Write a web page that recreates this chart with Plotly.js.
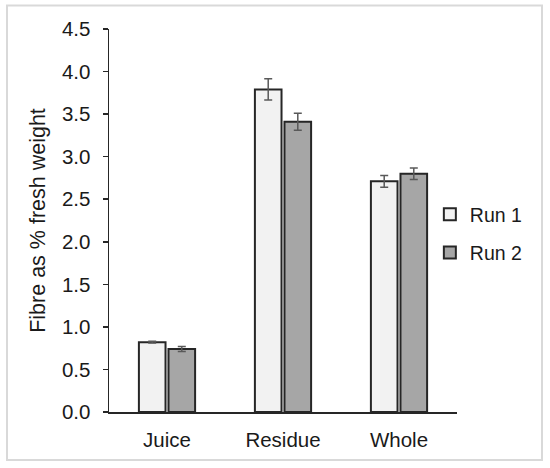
<!DOCTYPE html>
<html>
<head>
<meta charset="utf-8">
<script src="https://cdn.plot.ly/plotly-3.0.1.min.js"></script>
<style>
  body { margin: 0; background: #fff; }
  #graphDiv { width: 550px; height: 468px; }
</style>
</head>
<body>
<div id="graphDiv"></div>
<script>
// values
var categories = ["Juice", "Residue", "Whole"];
var run1Values = [0.82, 3.79, 2.71];
var run1Errors = [0.01, 0.125, 0.07];
var run2Values = [0.74, 3.41, 2.80];
var run2Errors = [0.03, 0.10, 0.068];
var yTicks = [0, 0.5, 1, 1.5, 2, 2.5, 3, 3.5, 4, 4.5];
var yTickLabels = ["0.0", "0.5", "1.0", "1.5", "2.0", "2.5", "3.0", "3.5", "4.0", "4.5"];

var textFont = "Liberation Sans, Arial, sans-serif";

function makeTrace(name, values, errors, fill) {
    return {
        type: 'bar',
        name: name,
        legendgroup: name,
        x: categories,
        y: values,
        marker: {
            color: fill,
            line: { color: '#262626', width: 2 }
        },
        error_y: {
            type: 'data',
            array: errors,
            visible: true,
            color: '#595959',
            thickness: 1.5,
            width: 4
        },
        hoverinfo: 'x+y+name'
    };
}

var data = [
    makeTrace("Run 1", run1Values, run1Errors, '#f2f2f2'),
    makeTrace("Run 2", run2Values, run2Errors, '#a6a6a6')
];

var layout = {
    width: 550,
    height: 468,
    margin: { l: 109, r: 93, t: 29, b: 56, pad: 0 },
    paper_bgcolor: '#ffffff',
    plot_bgcolor: '#ffffff',
    font: { family: textFont, color: '#1a1a1a', size: 19 },
    barmode: 'group',
    bargap: 0.49,
    bargroupgap: 0.1,
    showlegend: true,
    legend: {
        x: 0.922,
        xanchor: 'left',
        y: 0.466,
        yanchor: 'middle',
        traceorder: 'grouped',
        tracegroupgap: 10,
        font: { family: textFont, size: 19.5, color: '#1a1a1a' },
        bgcolor: 'rgba(0,0,0,0)'
    },
    xaxis: {
        type: 'category',
        range: [-0.5, 2.5],
        showline: true,
        linecolor: '#262626',
        linewidth: 1.5,
        ticks: '',
        showgrid: false,
        zeroline: false,
        ticklabelstandoff: 9,
        tickfont: { family: textFont, size: 20.5, color: '#1a1a1a' },
        fixedrange: true
    },
    yaxis: {
        range: [0, 4.5],
        tickmode: 'array',
        tickvals: yTicks,
        ticktext: yTickLabels,
        showline: true,
        linecolor: '#262626',
        linewidth: 1.5,
        ticks: 'outside',
        ticklen: 5,
        tickwidth: 1.5,
        tickcolor: '#262626',
        showgrid: false,
        zeroline: false,
        ticklabelstandoff: 8,
        tickfont: { family: textFont, size: 20.5, color: '#1a1a1a' },
        automargin: true,
        title: {
            text: "Fibre as % fresh weight",
            standoff: 10,
            font: { family: textFont, size: 21.5, color: '#1a1a1a' }
        },
        fixedrange: true
    },
    shapes: [{
        // light frame around the whole figure
        type: 'rect',
        xref: 'paper',
        yref: 'paper',
        x0: -0.2931,
        x1: 1.2443,
        y0: -0.1253,
        y1: 1.0614,
        line: { color: '#d9d9d9', width: 2 },
        fillcolor: 'rgba(0,0,0,0)',
        layer: 'below'
    }]
};

Plotly.newPlot("graphDiv", data, layout, { displayModeBar: false, staticPlot: true });
</script>
</body>
</html>
